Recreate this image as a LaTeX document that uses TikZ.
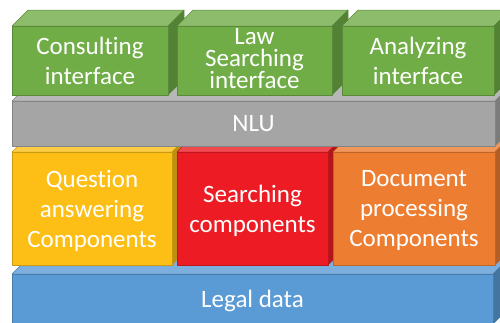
\documentclass[tikz,border=0pt]{standalone}
\usepackage{fontspec}
\setmainfont{Carlito}[Ligatures=NoCommon]
\usetikzlibrary{calc}
\definecolor{uigreen}{HTML}{70AD47}
\definecolor{nlugray}{HTML}{A5A5A5}
\definecolor{qayellow}{HTML}{FDBF16}
\definecolor{searchred}{HTML}{ED1C24}
\definecolor{docorange}{HTML}{ED7D31}
\definecolor{legalblue}{HTML}{5B9BD5}
\tikzset{
  face/.style={draw=#1!80!black,line width=0.5pt,line join=round},
  layertext/.style={text=white,align=center,inner sep=0pt,text depth=0pt}
}
\begin{document}
\begin{tikzpicture}[x=1pt,y=-1pt]
  \useasboundingbox(0,0)rectangle(500,322);
  \clip(0,0)rectangle(500,322);
  % layers from bottom to top, left to right
  \foreach \name/\xa/\ya/\xb/\yb/\c/\ls/\dy/\txt in{
      legal/12/274/493/324/legalblue/30/0/{Legal data},
      answer/12/152/172/265/qayellow/30/0/{Question\\answering\\Components},
      search/177/152/328/265/searchred/30/0/{Searching\\components},
      docproc/333/152/495/265/docorange/30/0/{Document\\processing\\Components},
      nlu/12/101/495/146/nlugray/30/0/{NLU},
      consult/12/26/168/95/uigreen/30/0/{Consulting\\interface},
      lawsearch/177/26/332/95/uigreen/22/-2/{Law\\Searching\\interface},
      analyze/342/26/494/95/uigreen/30/0/{Analyzing\\interface}}{
    \draw[face=\c,fill=\c!80!white](\xa,\ya)--(\xa+16,\ya-16)--(\xb+16,\ya-16)--(\xb,\ya)--cycle;
    \draw[face=\c,fill=\c!75!black](\xb,\ya)--(\xb+16,\ya-16)--(\xb+16,\yb-16)--(\xb,\yb)--cycle;
    \draw[face=\c,fill=\c](\xa,\ya)rectangle(\xb,\yb);
    \node[layertext,font=\fontsize{25}{\ls}\selectfont](\name)at($(\xa,\ya)!0.5!(\xb,\yb)+(0,\dy)$){\txt};
  }
\end{tikzpicture}
\end{document}
